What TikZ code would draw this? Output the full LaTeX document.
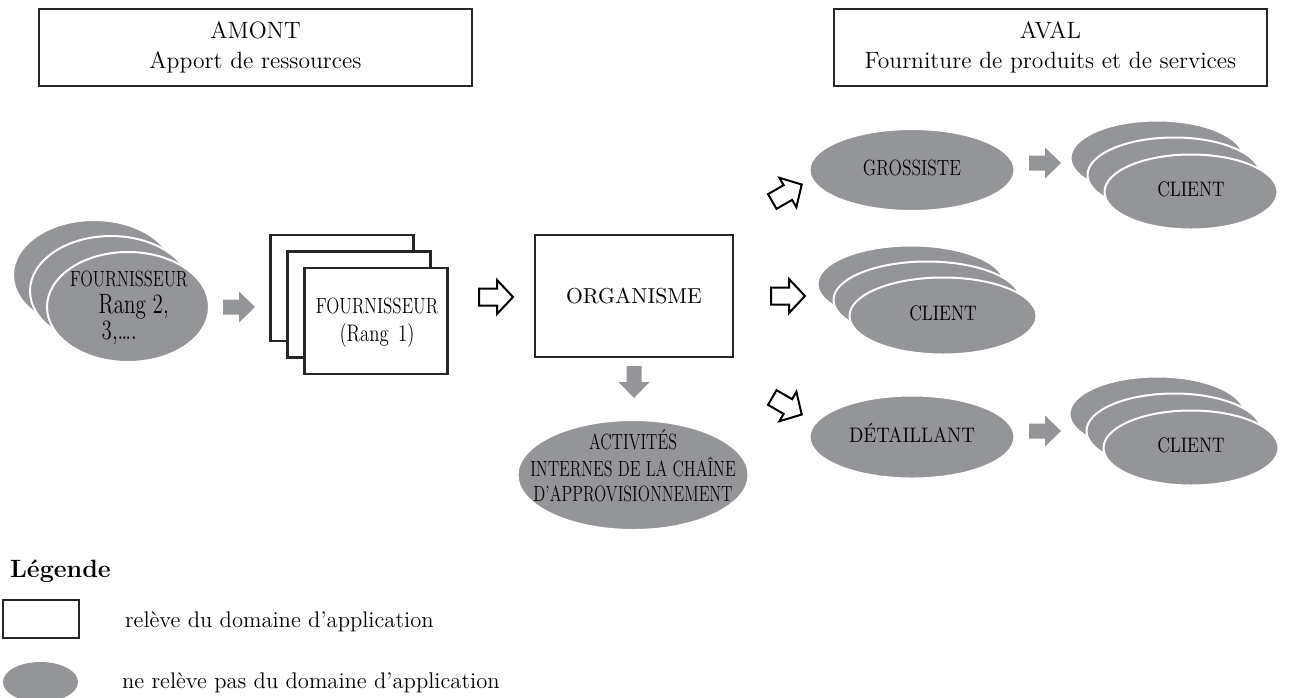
\documentclass[tikz,border=0pt]{standalone}
\usepackage{fontspec}
\usepackage{graphicx}
\usepackage{tikz}
\usetikzlibrary{shapes.geometric}

\definecolor{grisbulle}{RGB}{148,149,153}
\newcommand{\etroit}[3][c]{\scalebox{#2}[1]{\begin{tabular}{@{}#1@{}}#3\end{tabular}}}

\tikzset{
    cadre/.style={draw=black!85,line width=1.3pt,fill=white,inner sep=0pt},
    bulle/.style={ellipse,fill=grisbulle,draw=white,line width=1pt,inner sep=0pt},
    pics/flechegrise/.style={code={
        \fill [grisbulle] (-16,-7.5) -- (0,-7.5) -- (0,-15.5) -- (16,0) -- (0,15.5) -- (0,7.5) -- (-16,7.5) -- cycle;
    }},
    pics/flecheblanche/.style={code={
        \draw [fill=white,line width=1pt,line join=miter] (-17,-8.5) -- (1,-8.5) -- (1,-17) -- (17,0) -- (1,17) -- (1,8.5) -- (-17,8.5) -- cycle;
    }}
}

\begin{document}
\begin{tikzpicture}[x=0.5pt,y=0.5pt]
        \useasboundingbox (0,0) rectangle (1293,-697);
        \node [cadre,minimum width=216.5pt,minimum height=38.5pt,align=center,font=\fontsize{11.8}{15}\selectfont] (amont) at (255.5,-47.5) {AMONT\\Apport de ressources};
        \node [cadre,minimum width=216.5pt,minimum height=38.5pt,align=center,font=\fontsize{11.8}{15}\selectfont] (aval) at (1050.5,-47.5) {AVAL\\Fourniture de produits et de services};
        \foreach \i in {0,1,2}{
            \node [bulle,minimum width=81pt,minimum height=55pt] (frs\i) at ({94+17*\i},{-275-16*\i}) {};
        }
        \node [font=\fontsize{11}{13}\selectfont] (frstxt) at (129,-308) {\etroit[l]{0.75}{FOURNISSEUR\\\hspace*{19pt}{\fontsize{14}{14}\selectfont Rang 2,}\\\hspace*{21pt}{\fontsize{14}{14}\selectfont 3,\ldots.}}};
        \pic at (239,-307) {flechegrise};
        \foreach \i in {0,1,2}{
            \node [cadre,minimum width=71.5pt,minimum height=53pt] (fr\i) at ({342+17*\i},{-288-16.5*\i}) {};
        }
        \node [font=\fontsize{11}{14}\selectfont] (frtxt) at (377,-322) {\etroit{0.78}{FOURNISSEUR\\{\fontsize{12}{14}\selectfont (Rang\enspace 1)}}};
        \pic at (496,-297) {flecheblanche};
        \node [cadre,minimum width=99pt,minimum height=61pt,font=\fontsize{10.8}{12}\selectfont] (org) at (634,-296) {ORGANISME};
        \pic [rotate=-90] at (634,-382) {flechegrise};
        \node [bulle,minimum width=115.5pt,minimum height=55pt] (act) at (633,-475) {};
        \node [font=\fontsize{11}{12.5}\selectfont] (acttxt) at (633,-469) {\etroit{0.73}{ACTIVITÉS\\INTERNES DE LA CHAÎNE\\D'APPROVISIONNEMENT}};
        \pic [rotate=30] at (787,-193) {flecheblanche};
        \pic at (788,-296) {flecheblanche};
        \pic [rotate=-30] at (787,-406) {flecheblanche};
        \node [bulle,minimum width=102.5pt,minimum height=41pt,font=\fontsize{11}{13}\selectfont] (gros) at (912,-170) {\etroit{0.8}{GROSSISTE}};
        \pic at (1045,-163) {flechegrise};
        \foreach \i in {0,1,2}{
            \node [bulle,minimum width=86.5pt,minimum height=37.5pt] (cla\i) at ({1157+17*\i},{-158-17*\i}) {};
        }
        \node [font=\fontsize{10.5}{12}\selectfont] (clatxt) at (cla2) {\etroit{0.83}{CLIENT}};
        \foreach \i in {0,1,2}{
            \node [bulle,minimum width=93.5pt,minimum height=38.5pt] (clb\i) at ({911+16*\i},{-284-16*\i}) {};
        }
        \node [font=\fontsize{10.5}{12}\selectfont] (clbtxt) at (clb2) {\etroit{0.83}{CLIENT}};
        \node [bulle,minimum width=102.5pt,minimum height=41.5pt,font=\fontsize{10.5}{12}\selectfont] (det) at (912,-437) {\etroit{0.9}{DÉTAILLANT}};
        \pic at (1045,-431) {flechegrise};
        \foreach \i in {0,1,2}{
            \node [bulle,minimum width=87.5pt,minimum height=37.5pt] (clc\i) at ({1157+17*\i},{-414-17*\i}) {};
        }
        \node [font=\fontsize{10.5}{12}\selectfont] (clctxt) at (clc2) {\etroit{0.83}{CLIENT}};
        \node [anchor=base west,font=\fontsize{12.5}{15}\selectfont\bfseries] (leg) at (3,-577) {Légende};
        \node [cadre,minimum width=38pt,minimum height=19pt] (legcadre) at (41,-619) {};
        \node [anchor=base west,font=\fontsize{11.3}{14}\selectfont] (legcadretxt) at (118,-627) {relève du domaine d'application};
        \node [bulle,draw=none,minimum width=37.5pt,minimum height=20pt] (legbulle) at (40.5,-682) {};
        \node [anchor=base west,font=\fontsize{11.3}{14}\selectfont] (legbulletxt) at (115,-688) {ne relève pas du domaine d'application};
\end{tikzpicture}
\end{document}
